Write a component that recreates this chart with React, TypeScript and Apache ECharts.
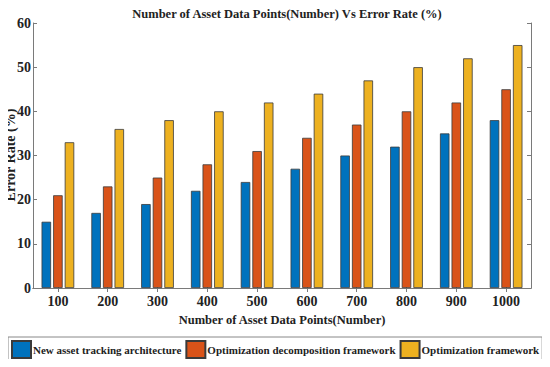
import React, { useEffect, useRef } from "react";
import * as echarts from "echarts";

const categories = ["100", "200", "300", "400", "500", "600", "700", "800", "900", "1000"];
const newAsset = [15, 17, 19, 22, 24, 27, 30, 32, 35, 38];
const optDecomp = [21, 23, 25, 28, 31, 34, 37, 40, 42, 45];
const optFramework = [33, 36, 38, 40, 42, 44, 47, 50, 52, 55];
const seriesNames = [
  "New asset tracking architecture",
  "Optimization decomposition framework",
  "Optimization framework",
];
const colors = ["#0072BD", "#D95319", "#EDB120"];
const yAxisTitle = "Error Rate (%)";

const FONT = "Liberation Serif";

export default function App() {
  const ref = useRef<HTMLDivElement>(null);
  useEffect(() => {
    if (!ref.current) return;
    const chart = echarts.init(ref.current, undefined, { renderer: "svg" });
    const axisLine = { show: true, lineStyle: { color: "#7a7a7a", width: 1 } };
    const textBase = { fontFamily: FONT, fontWeight: "bold" as const, color: "#222" };
    const datasets = [newAsset, optDecomp, optFramework];
    chart.setOption({
      animation: false,
      backgroundColor: "#fff",
      title: {
        text: "Number of Asset Data Points(Number) Vs Error Rate (%)",
        left: 282,
        textAlign: "center",
        top: 2,
        textStyle: { ...textBase, fontSize: 12.5 },
      },
      graphic: [
        {
          type: "text",
          x: 10.5,
          y: 155,
          rotation: Math.PI / 2,
          style: {
            text: yAxisTitle,
            font: "bold 14px 'Liberation Serif'",
            fill: "#222",
            align: "center",
            verticalAlign: "middle",
          },
        },
      ],
      legend: {
        data: seriesNames,
        left: 8,
        top: 337,
        itemWidth: 19,
        itemHeight: 17,
        itemGap: 4,
        padding: [3, 3, 3, 3],
        borderColor: "#888",
        borderWidth: 1,
        icon: "rect",
        textStyle: { ...textBase, fontSize: 11, padding: [0, 0, 0, -3] },
      },
      grid: { left: 33, right: 19, top: 23, bottom: 79, outerBoundsMode: "none", containLabel: false },
      xAxis: [
        {
          type: "category",
          data: categories,
          position: "bottom",
          axisLine,
          axisTick: { show: true, inside: true, alignWithLabel: true, length: 4, lineStyle: { color: "#7a7a7a" } },
          axisLabel: { ...textBase, fontSize: 14, margin: 6 },
          name: "Number of Asset Data Points(Number)",
          nameLocation: "middle",
          nameGap: 25,
          nameMoveOverlap: false,
          nameTextStyle: { ...textBase, fontSize: 12.5 },
        },
        {
          type: "category",
          data: categories,
          position: "top",
          axisLine,
          axisTick: { show: true, inside: true, alignWithLabel: true, length: 4, lineStyle: { color: "#7a7a7a" } },
          axisLabel: { show: false },
        },
      ],
      yAxis: [
        {
          type: "value",
          min: 0,
          max: 60,
          interval: 10,
          position: "left",
          axisLine,
          axisTick: { show: true, inside: true, length: 4, lineStyle: { color: "#7a7a7a" } },
          splitLine: { show: false },
          axisLabel: { ...textBase, fontSize: 14, margin: 2 },
        },
        {
          type: "value",
          min: 0,
          max: 60,
          interval: 10,
          position: "right",
          axisLine,
          axisTick: { show: true, inside: true, length: 4, lineStyle: { color: "#7a7a7a" } },
          splitLine: { show: false },
          axisLabel: { show: false },
        },
      ],
      series: seriesNames.map((name, i) => ({
        name,
        type: "bar",
        data: datasets[i],
        barWidth: 9.5,
        barGap: "22%",
        itemStyle: { color: colors[i], borderColor: "#3a3a3a", borderWidth: 0.8 },
      })),
    });
    return () => chart.dispose();
  }, []);
  return <div ref={ref} style={{ width: 550, height: 367, margin: -8 }} />;
}
